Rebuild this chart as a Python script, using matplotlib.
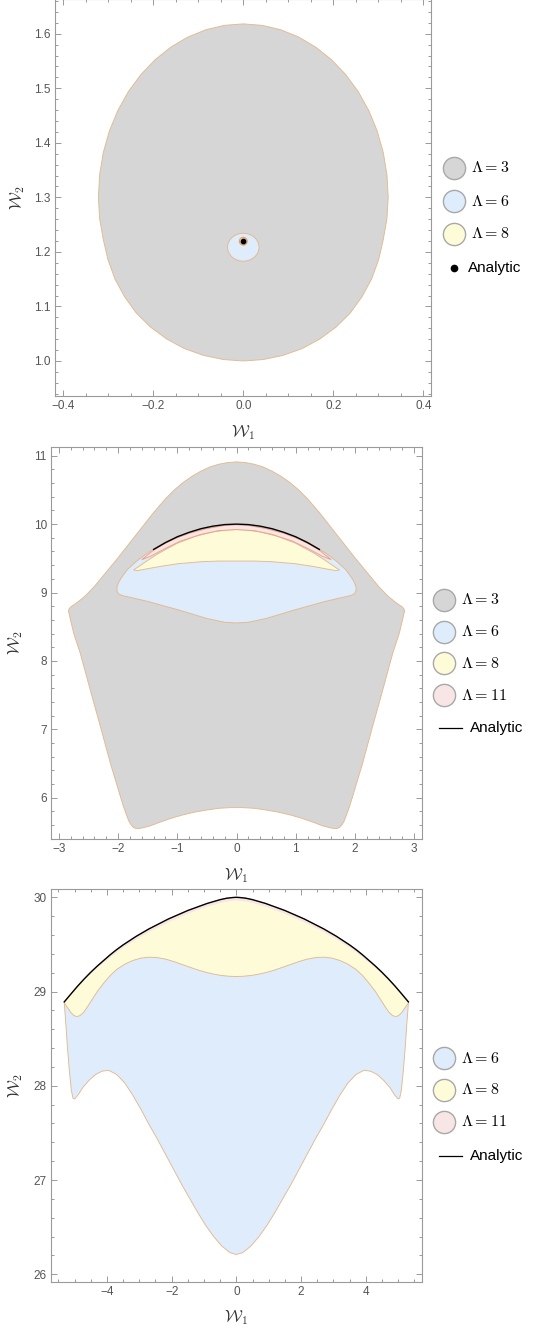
import numpy as np
import matplotlib
matplotlib.use("Agg")
from matplotlib import pyplot as plt
from matplotlib.patches import Ellipse
from matplotlib.lines import Line2D

plt.rcParams["mathtext.fontset"] = "cm"
plt.rcParams["font.family"] = ["Liberation Sans", "DejaVu Sans"]

# ---------------- data ----------------
# panel 1: Lambda=3 region, right half outline from top to bottom
p1_gray_x = np.array([0, 0.042, 0.0833, 0.1232, 0.161, 0.196, 0.2277, 0.2555, 0.2789, 0.2975, 0.311,
                      0.3192, 0.322, 0.3192, 0.311, 0.3005, 0.285, 0.2635, 0.2377, 0.206, 0.170,
                      0.131, 0.088, 0.044, 0])
p1_gray_y = np.array([1.618, 1.6153, 1.6072, 1.5938, 1.5754, 1.5523, 1.5249, 1.4936, 1.459, 1.4217,
                      1.3823, 1.3415, 1.30, 1.2609, 1.2224, 1.1852, 1.15, 1.1174, 1.0879, 1.062,
                      1.0402, 1.0228, 1.0102, 1.0026, 1.0])
p1_blue_center = (0.0, 1.2085)
p1_blue_size = (0.070, 0.051)
p1_yellow_center = (0.0, 1.2195)
p1_yellow_size = (0.017, 0.014)
p1_analytic = (0.0, 1.2195)

# panel 2: left half outlines, top -> bottom
p2_gray_x = np.array([0, -0.15, -0.3, -0.45, -0.6, -0.75, -0.9, -1.05, -1.2, -1.4, -1.6, -1.8, -2.0,
                      -2.2, -2.4, -2.55, -2.66, -2.74, -2.80, -2.83, -2.84, -2.83, -2.80, -2.75,
                      -2.64, -2.47, -2.30, -2.13, -1.96, -1.91, -1.86, -1.82, -1.78, -1.74, -1.70,
                      -1.65, -1.58, -1.45, -1.3, -1.1, -0.9, -0.7, -0.5, -0.3, -0.1, 0])
p2_gray_y = np.array([10.91, 10.90, 10.875, 10.835, 10.775, 10.70, 10.61, 10.50, 10.37, 10.17, 9.95,
                      9.73, 9.51, 9.30, 9.09, 8.955, 8.875, 8.825, 8.79, 8.76, 8.73, 8.69, 8.58, 8.40,
                      8.11, 7.57, 7.04, 6.50, 6.01, 5.87, 5.75, 5.66, 5.60, 5.565, 5.55, 5.55,
                      5.56, 5.59, 5.64, 5.70, 5.75, 5.79, 5.82, 5.845, 5.855, 5.855])
p2_blue_x = np.array([0, -0.4, -0.8, -1.2, -1.5, -1.7, -1.85, -1.95, -1.99, -2.02, -2.02, -1.99,
                      -1.93, -1.85, -1.5, -1.0, -0.5, -0.2, 0])
p2_blue_y = np.array([9.99, 9.95, 9.87, 9.74, 9.58, 9.45, 9.33, 9.21, 9.15, 9.08, 9.02, 8.98,
                      8.955, 8.94, 8.87, 8.75, 8.62, 8.565, 8.555])
# tip -> centre
p2_yellow_top_x = np.array([-1.74, -1.65, -1.5, -1.3, -1.0, -0.7, -0.4, -0.15, 0])
p2_yellow_top_y = np.array([9.33, 9.38, 9.47, 9.58, 9.72, 9.82, 9.885, 9.915, 9.92])
p2_yellow_bot_x = np.array([-1.74, -1.68, -1.55, -1.3, -1.0, -0.6, -0.3, 0])
p2_yellow_bot_y = np.array([9.33, 9.32, 9.34, 9.38, 9.42, 9.45, 9.46, 9.46])
p2_pink_top_x = np.array([-1.6, -1.5, -1.4, -1.2, -1.0, -0.8, -0.5, -0.2, 0])
p2_pink_top_y = np.array([9.48, 9.55, 9.62, 9.72, 9.80, 9.865, 9.935, 9.98, 9.99])
p2_pink_bot_x = np.array([-1.6, -1.45, -1.2, -0.95, -0.6, -0.3, 0])
p2_pink_bot_y = np.array([9.48, 9.53, 9.645, 9.75, 9.85, 9.905, 9.92])
p2_analytic_x = np.array([-1.4, -1.2, -1.0, -0.8, -0.6, -0.4, -0.2, 0])
p2_analytic_y = np.array([9.63, 9.73, 9.815, 9.88, 9.933, 9.97, 9.993, 10.0])

# panel 3: end -> centre
p3_analytic_x = np.array([-5.32, -5.1, -4.9, -4.7, -4.5, -4.3, -4.1, -3.9, -3.7, -3.5, -3.3, -3.1,
                          -2.9, -2.7, -2.5, -2.3, -2.1, -1.9, -1.7, -1.5, -1.3, -1.1, -0.9, -0.7,
                          -0.5, -0.3, -0.1, 0])
p3_analytic_y = np.array([28.89, 28.98, 29.06, 29.135, 29.205, 29.27, 29.33, 29.39, 29.445, 29.495,
                          29.54, 29.585, 29.625, 29.665, 29.70, 29.735, 29.77, 29.80, 29.83, 29.86,
                          29.885, 29.91, 29.935, 29.955, 29.975, 29.99, 29.998, 30.0])
p3_pink_bot_y = np.array([28.89, 28.975, 29.05, 29.12, 29.185, 29.248, 29.305, 29.362, 29.415,
                          29.465, 29.508, 29.552, 29.591, 29.631, 29.666, 29.70, 29.735, 29.765,
                          29.795, 29.825, 29.85, 29.875, 29.90, 29.92, 29.94, 29.955, 29.963, 29.965])
p3_yellow_bot_x = np.array([-5.32, -5.22, -5.12, -5.02, -4.93, -4.83, -4.72, -4.6, -4.45, -4.3, -4.1,
                            -3.9, -3.7, -3.45, -3.2, -2.95, -2.7, -2.45, -2.2, -1.95, -1.7, -1.45,
                            -1.2, -0.95, -0.7, -0.45, -0.2, 0])
p3_yellow_bot_y = np.array([28.88, 28.83, 28.78, 28.745, 28.735, 28.745, 28.78, 28.84, 28.92, 29.0,
                            29.09, 29.17, 29.235, 29.29, 29.33, 29.355, 29.365, 29.36, 29.345, 29.32,
                            29.29, 29.26, 29.23, 29.205, 29.185, 29.17, 29.162, 29.16])
p3_blue_bot_x = np.array([-5.32, -5.27, -5.22, -5.16, -5.10, -5.05, -5.0, -4.9, -4.75, -4.55, -4.35,
                          -4.15, -3.95, -3.7, -3.45, -3.2, -2.95, -2.7, -2.45, -2.2, -1.95, -1.7,
                          -1.45, -1.2, -0.95, -0.7, -0.45, -0.2, 0])
p3_blue_bot_y = np.array([28.88, 28.65, 28.40, 28.15, 27.95, 27.87, 27.86, 27.90, 27.98, 28.06, 28.12,
                          28.155, 28.165, 28.12, 28.03, 27.90, 27.75, 27.59, 27.44, 27.28, 27.12,
                          26.96, 26.81, 26.66, 26.52, 26.40, 26.30, 26.23, 26.21])

GRAY, BLUE, YELLOW, PINK = "#d6d6d6", "#dfecfb", "#fefcd8", "#f8e6e6"
EDGE = "#e3b98f"
PINK_EDGE = "#ec9f86"
LW = 0.65

W, H = 553, 1329


def outline(xs, ys):  # half outline (x=0 ... x=0) mirrored to a closed shape
    return np.r_[xs, -xs[::-1]], np.r_[ys, ys[::-1]]


def lens(tx, ty, bx, by):  # top and bottom curves from left tip to centre
    top_x, top_y = np.r_[tx, -tx[::-1][1:]], np.r_[ty, ty[::-1][1:]]
    bot_x, bot_y = np.r_[bx, -bx[::-1][1:]], np.r_[by, by[::-1][1:]]
    return np.r_[top_x, bot_x[::-1]], np.r_[top_y, bot_y[::-1]]


def curve(xs, ys):
    return np.r_[xs, -xs[::-1][1:]], np.r_[ys, ys[::-1][1:]]


def px_axes(fig, l, t, w, h):
    return fig.add_axes([l / W, 1 - (t + h) / H, w / W, h / H])


def style_axes(ax, xmaj, xmin, ymaj, ymin):
    for s in ax.spines.values():
        s.set_color("#9a9a9a")
        s.set_linewidth(0.8)
    ax.xaxis.set_major_locator(plt.MultipleLocator(xmaj))
    ax.xaxis.set_minor_locator(plt.MultipleLocator(xmin))
    ax.yaxis.set_major_locator(plt.MultipleLocator(ymaj))
    ax.yaxis.set_minor_locator(plt.MultipleLocator(ymin))
    ax.tick_params(which="both", direction="in", top=True, right=True, color="#9a9a9a",
                   labelsize=8.5, labelcolor="#555555", width=0.7)
    ax.tick_params(which="major", length=4.5, pad=3)
    ax.tick_params(which="minor", length=2.5)
    ax.set_xlabel(r"$\mathcal{W}_1$", fontsize=12, color="#333333")
    ax.set_ylabel(r"$\mathcal{W}_2$", fontsize=12, color="#333333")


def legend_dot(fig, xc, y, color, label):
    fig.add_artist(Line2D([xc / W], [1 - y / H], marker="o", ms=16, mfc=color, mec="#a8a8a8",
                          mew=1.0, ls="none", transform=fig.transFigure))
    fig.text((xc + 17) / W, 1 - y / H, label, va="center", ha="left", fontsize=11.5)


def legend_line(fig, xc, y):
    fig.add_artist(Line2D([(xc - 5) / W, (xc + 18) / W], [1 - y / H, 1 - y / H], color="black",
                          lw=0.9, transform=fig.transFigure))
    fig.text((xc + 26) / W, 1 - y / H, "Analytic", va="center", ha="left", fontsize=11)


fig = plt.figure(figsize=(W / 100, H / 100), dpi=100)

# ---------------- panel 1 ----------------
ax1 = px_axes(fig, 55, -1, 376, 397)
x, y = outline(p1_gray_x, p1_gray_y)
ax1.fill(x, y, facecolor=GRAY, edgecolor=EDGE, lw=LW)
ax1.add_patch(Ellipse(p1_blue_center, *p1_blue_size, facecolor=BLUE, edgecolor=EDGE, lw=LW))
ax1.add_patch(Ellipse(p1_yellow_center, *p1_yellow_size, facecolor=YELLOW, edgecolor="#e8a060", lw=0.9))
ax1.plot([p1_analytic[0]], [p1_analytic[1]], "o", color="black", ms=3.2)
ax1.set_xlim(-0.4184, 0.4171)
ax1.set_ylim(0.9358, 1.6636)
style_axes(ax1, 0.2, 0.05, 0.1, 0.02)
ax1.xaxis.set_label_coords(0.5, -0.068)
ax1.yaxis.set_label_coords(-0.074, 0.5)

legend_dot(fig, 454, 168, GRAY, r"$\Lambda = 3$")
legend_dot(fig, 454, 201, BLUE, r"$\Lambda = 6$")
legend_dot(fig, 454, 234, YELLOW, r"$\Lambda = 8$")
fig.add_artist(Line2D([454 / W], [1 - 268 / H], marker="o", ms=4.5, color="black", ls="none",
                      transform=fig.transFigure))
fig.text(468 / W, 1 - 268 / H, "Analytic", va="center", ha="left", fontsize=11)

# ---------------- panel 2 ----------------
ax2 = px_axes(fig, 51, 447.3, 371, 391.7)
x, y = outline(p2_gray_x, p2_gray_y)
ax2.fill(x, y, facecolor=GRAY, edgecolor=EDGE, lw=LW)
x, y = outline(p2_blue_x, p2_blue_y)
ax2.fill(x, y, facecolor=BLUE, edgecolor=EDGE, lw=LW)
x, y = lens(p2_yellow_top_x, p2_yellow_top_y, p2_yellow_bot_x, p2_yellow_bot_y)
ax2.fill(x, y, facecolor=YELLOW, edgecolor=EDGE, lw=LW)
x, y = lens(p2_pink_top_x, p2_pink_top_y, p2_pink_bot_x, p2_pink_bot_y)
ax2.fill(x, y, facecolor=PINK, edgecolor=PINK_EDGE, lw=LW)
x, y = curve(p2_analytic_x, p2_analytic_y)
ax2.plot(x, y, color="black", lw=1.0)
ax2.set_xlim(-3.135, 3.135)
ax2.set_ylim(5.396, 11.123)
style_axes(ax2, 1, 0.2, 1, 0.2)
ax2.xaxis.set_label_coords(0.5, -0.069)
ax2.yaxis.set_label_coords(-0.070, 0.5)

legend_dot(fig, 444, 600, GRAY, r"$\Lambda = 3$")
legend_dot(fig, 444, 631.7, BLUE, r"$\Lambda = 6$")
legend_dot(fig, 444, 663.3, YELLOW, r"$\Lambda = 8$")
legend_dot(fig, 444, 695, PINK, r"$\Lambda = 11$")
legend_line(fig, 444, 728.3)

# ---------------- panel 3 ----------------
ax3 = px_axes(fig, 51, 889.3, 371, 393)
x, y = lens(p3_analytic_x, p3_analytic_y, p3_blue_bot_x, p3_blue_bot_y)
ax3.fill(x, y, facecolor=BLUE, edgecolor=EDGE, lw=LW)
x, y = lens(p3_analytic_x, p3_analytic_y, p3_yellow_bot_x, p3_yellow_bot_y)
ax3.fill(x, y, facecolor=YELLOW, edgecolor=EDGE, lw=LW)
x, y = lens(p3_analytic_x, p3_analytic_y, p3_analytic_x, p3_pink_bot_y)
ax3.fill(x, y, facecolor=PINK, edgecolor="none")
x, y = curve(p3_analytic_x, p3_analytic_y)
ax3.plot(x, y, color="black", lw=1.0)
ax3.set_xlim(-5.73, 5.74)
ax3.set_ylim(25.915, 30.085)
style_axes(ax3, 2, 0.5, 1, 0.2)
ax3.xaxis.set_label_coords(0.5, -0.065)
ax3.yaxis.set_label_coords(-0.070, 0.5)

legend_dot(fig, 444, 1058.3, BLUE, r"$\Lambda = 6$")
legend_dot(fig, 444, 1090, YELLOW, r"$\Lambda = 8$")
legend_dot(fig, 444, 1121.7, PINK, r"$\Lambda = 11$")
legend_line(fig, 444, 1155.7)

fig.savefig("out.png", dpi=100)
